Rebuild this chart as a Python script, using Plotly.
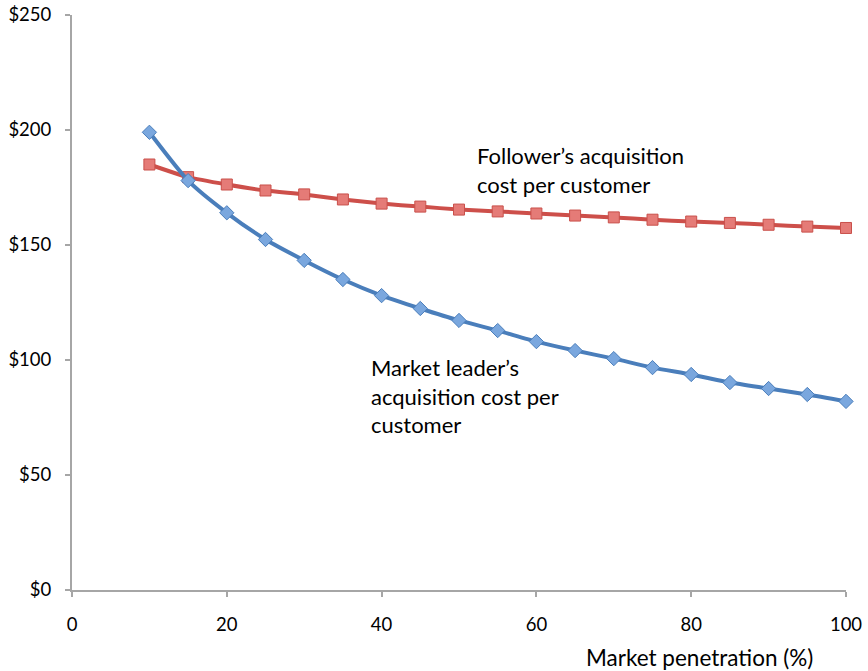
import plotly.graph_objects as go

# Market penetration (%) and acquisition cost per customer ($)
penetration = [10, 15, 20, 25, 30, 35, 40, 45, 50, 55, 60, 65, 70, 75, 80, 85, 90, 95, 100]
leader_cost = [199, 178, 164, 152.4, 143.3, 135, 128, 122.4, 117.2, 112.8, 108, 104.1,
               100.6, 96.7, 93.7, 90.2, 87.6, 85, 82]
follower_cost = [185, 179.5, 176.3, 173.7, 172, 169.8, 168, 166.7, 165.4, 164.6, 163.7,
                 162.8, 162, 161, 160.2, 159.6, 158.8, 158, 157.4]

x_ticks = [0, 20, 40, 60, 80, 100]
y_ticks = [0, 50, 100, 150, 200, 250]
y_tick_labels = ["$0", "$50", "$100", "$150", "$200", "$250"]

FONT = "Lato, 'Open Sans', sans-serif"
BLUE = "#4A7EBB"
RED = "#CD4F4A"
AXIS = "#A6A6A6"

fig = go.Figure()
fig.add_trace(go.Scatter(
    x=penetration, y=follower_cost, mode="lines+markers",
    line=dict(color=RED, width=4, shape="spline", smoothing=0.6),
    marker=dict(symbol="square", size=11, color="#E57B77",
                line=dict(color="#C9504B", width=1)),
    showlegend=False, cliponaxis=False,
))
fig.add_trace(go.Scatter(
    x=penetration, y=leader_cost, mode="lines+markers",
    line=dict(color=BLUE, width=4, shape="spline", smoothing=0.6),
    marker=dict(symbol="diamond", size=11, color="#7AA7DE",
                line=dict(color="#4A7EBB", width=1)),
    showlegend=False, cliponaxis=False,
))

fig.add_annotation(x=52.05, y=182.6, xref="x", yref="y", xanchor="left", yanchor="middle",
                   text="Follower’s acquisition<br>cost per customer", showarrow=False,
                   align="left", font=dict(family=FONT, size=22, color="#000000"))
fig.add_annotation(x=38.37, y=84.4, xref="x", yref="y", xanchor="left", yanchor="middle",
                   text="Market leader’s<br>acquisition cost per<br>customer", showarrow=False,
                   align="left", font=dict(family=FONT, size=22, color="#000000"))
fig.add_annotation(x=(815 - 72) / 774, y=-0.117, xref="paper", yref="paper",
                   xanchor="right", yanchor="middle",
                   text="Market penetration (%)", showarrow=False,
                   font=dict(family=FONT, size=22.5, color="#000000"))

fig.update_xaxes(range=[0, 100], tickvals=x_ticks, showgrid=False, zeroline=False,
                 showline=True, linecolor=AXIS, linewidth=2, ticks="outside",
                 ticklen=5, tickwidth=2, tickcolor=AXIS, automargin=False,
                 ticklabelstandoff=12,
                 tickfont=dict(family=FONT, size=18.5, color="#000000"))
fig.update_yaxes(range=[0, 250], tickvals=y_ticks, ticktext=y_tick_labels, showgrid=False,
                 zeroline=False, showline=True, linecolor=AXIS, linewidth=2,
                 ticks="outside", ticklen=5, tickwidth=2, tickcolor=AXIS,
                 automargin=False, ticklabelstandoff=10,
                 tickfont=dict(family=FONT, size=18.5, color="#000000"))

fig.update_layout(
    width=868, height=671,
    margin=dict(l=72, r=22, t=15, b=81, autoexpand=False),
    paper_bgcolor="white", plot_bgcolor="white",
    font=dict(family=FONT, size=18, color="#000000"),
)

fig.write_html("out.html")
